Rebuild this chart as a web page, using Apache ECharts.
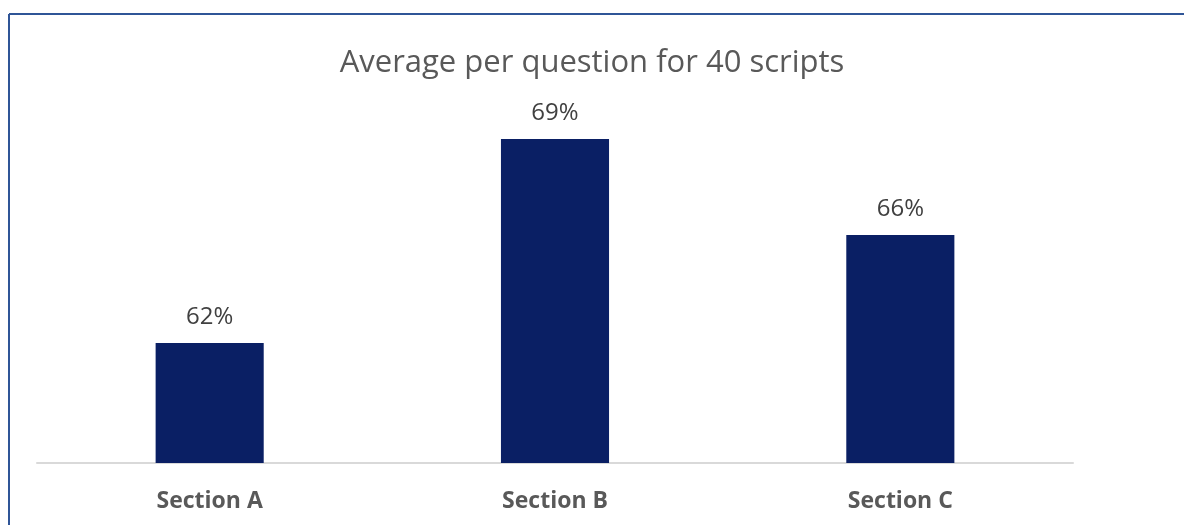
<!DOCTYPE html>
<html>
<head>
<meta charset="utf-8">
<script src="https://cdn.jsdelivr.net/npm/echarts@6/dist/echarts.min.js"></script>
<style>
html,body{margin:0;padding:0;background:#fff;}
#chart{width:1184px;height:525px;}
</style>
</head>
<body>
<div id="chart"></div>
<script>
const titleText = 'Average per question for 40 scripts';
const categories = ['Section A', 'Section B', 'Section C'];
const averages = [0.620, 0.688, 0.656];

const chart = echarts.init(document.getElementById('chart'));
chart.setOption({
  animation: false,
  backgroundColor: '#ffffff',
  title: {
    text: titleText,
    left: 'center',
    top: 43,
    textStyle: { fontFamily: 'Open Sans', fontSize: 31, fontWeight: 'normal', color: '#595959' }
  },
  graphic: [
    { type: 'line', shape: { x1: 9, y1: 14, x2: 1184, y2: 14 }, style: { stroke: '#2F5597', lineWidth: 2 } },
    { type: 'line', shape: { x1: 9, y1: 14, x2: 9, y2: 525 }, style: { stroke: '#2F5597', lineWidth: 2 } }
  ],
  grid: { left: 37, right: 111, top: 103, bottom: 62, containLabel: false },
  xAxis: {
    type: 'category',
    data: categories,
    axisTick: { show: false },
    axisLine: { lineStyle: { color: '#D9D9D9', width: 2 } },
    axisLabel: { margin: 27, fontFamily: 'Open Sans', fontSize: 23, fontWeight: 'bold', color: '#595959' }
  },
  yAxis: {
    type: 'value',
    min: 0.58,
    max: 0.70,
    show: false,
    splitLine: { show: false }
  },
  series: [{
    type: 'bar',
    data: averages,
    barWidth: '31.3%',
    itemStyle: { color: '#0A1F64' },
    label: {
      show: true,
      position: 'top',
      distance: 14,
      fontFamily: 'Open Sans',
      fontSize: 24,
      color: '#404040',
      formatter: p => Math.round(p.value * 100) + '%'
    }
  }]
});
</script>
</body>
</html>
